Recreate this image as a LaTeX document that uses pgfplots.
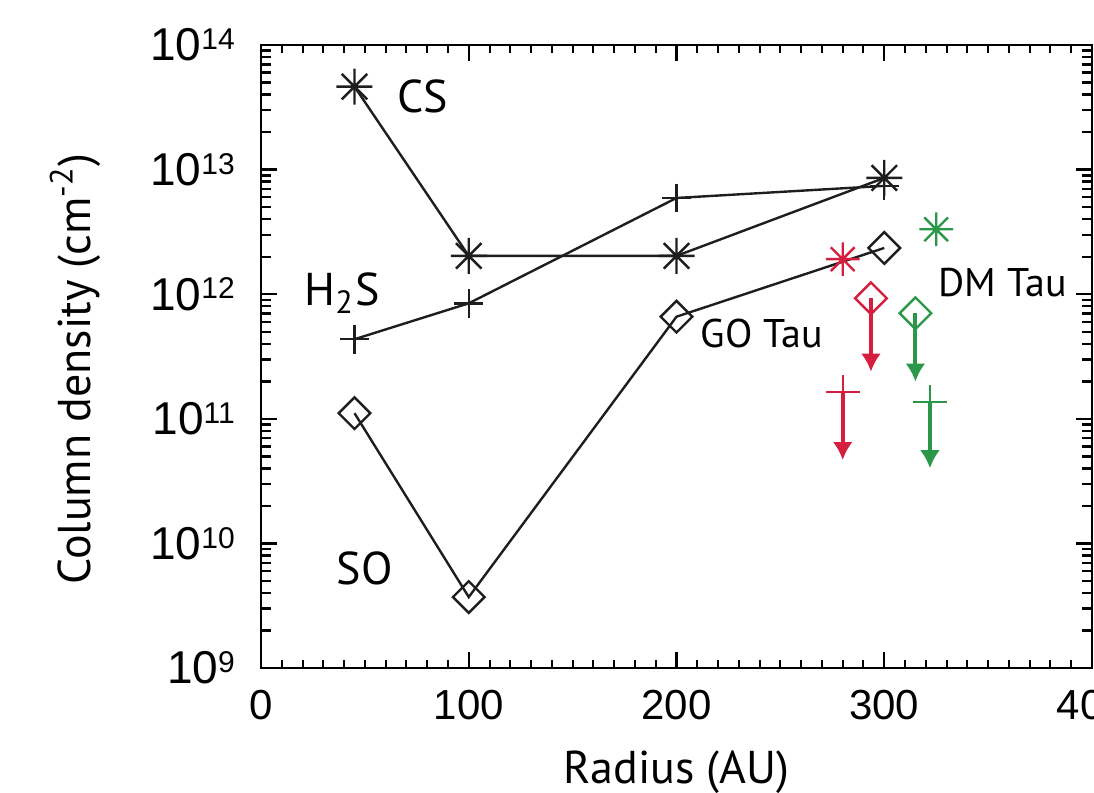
\documentclass[border=0pt]{standalone}
\usepackage{fontspec}
\setmainfont{PT Sans}
\newfontfamily\tickfont{Liberation Sans}
\usepackage{pgfplots}
\pgfplotsset{compat=1.18}
\usetikzlibrary{arrows.meta,calc}
\definecolor{limred}{RGB}{214,30,62}
\definecolor{limgreen}{RGB}{42,152,72}
\definecolor{curve}{RGB}{30,30,30}

% 8-armed asterisk (IDL psym=2 look)
\pgfdeclareplotmark{ast8}{%
  \pgfpathmoveto{\pgfqpoint{0pt}{\pgfplotmarksize}}%
  \pgfpathlineto{\pgfqpoint{0pt}{-\pgfplotmarksize}}%
  \pgfpathmoveto{\pgfqpoint{\pgfplotmarksize}{0pt}}%
  \pgfpathlineto{\pgfqpoint{-\pgfplotmarksize}{0pt}}%
  \pgfpathmoveto{\pgfqpoint{.7071\pgfplotmarksize}{.7071\pgfplotmarksize}}%
  \pgfpathlineto{\pgfqpoint{-.7071\pgfplotmarksize}{-.7071\pgfplotmarksize}}%
  \pgfpathmoveto{\pgfqpoint{-.7071\pgfplotmarksize}{.7071\pgfplotmarksize}}%
  \pgfpathlineto{\pgfqpoint{.7071\pgfplotmarksize}{-.7071\pgfplotmarksize}}%
  \pgfusepathqstroke}

\newcommand{\ylab}[1]{10\raisebox{2.8pt}{\fontsize{7.5}{8}\selectfont #1}}

\begin{document}
\begin{tikzpicture}
\begin{axis}[
    scale only axis,
    width=207.75pt, height=155.75pt,
    xmin=0, xmax=400,
    ymode=log, ymin=1e9, ymax=1e14,
    clip=false,
    xtick={0,100,200,300,400},
    minor xtick={10,20,...,390},
    ytick={1e9,1e10,1e11,1e12,1e13,1e14},
    yticklabels={\ylab{9},\ylab{10},\ylab{11},\ylab{12},\ylab{13},\ylab{14}},
    tick align=inside,
    xtick pos=both, ytick pos=both,
    xticklabel pos=lower, yticklabel pos=left,
    major tick length=4pt, minor tick length=2pt,
    tick style={black, line width=0.55pt},
    minor tick style={black, line width=0.5pt},
    axis line style={line width=0.7pt},
    /pgf/number format/assume math mode=true,
    xticklabel style={font=\tickfont\fontsize{10.5}{12}\selectfont, yshift=-2pt},
    yticklabel style={font=\tickfont\fontsize{11.5}{13}\selectfont, xshift=-3pt},
    xlabel={Radius (AU)},
    ylabel={Column density (cm\textsuperscript{-2})},
    xlabel style={font=\fontsize{11.5}{13}\selectfont, at={(axis description cs:0.5,0)}, anchor=center, yshift=-26pt},
    ylabel style={font=\fontsize{11.5}{13}\selectfont, at={(axis description cs:0,0.48)}, anchor=center, rotate=0, yshift=46.5pt},
]
% ---- model curves
\addplot[curve, line width=0.6pt, mark=ast8, mark size=4.5pt, mark options={solid}]
    coordinates {(45,4.63e13) (100,2.03e12) (200,2.03e12) (300,8.57e12)};
\addplot[curve, line width=0.6pt, mark=+, mark size=3.6pt, mark options={solid}]
    coordinates {(45,4.35e11) (100,8.45e11) (200,5.92e12) (300,7.4e12)};
\addplot[curve, line width=0.6pt, mark=square, mark size=2.8pt, mark options={solid, rotate=45}]
    coordinates {(45,1.11e11) (100,3.71e9) (200,6.6e11) (300,2.35e12)};

% ---- GO Tau (red)
\addplot[limred, only marks, mark=ast8, mark size=4.2pt, line width=0.6pt]
    coordinates {(280,1.91e12)};
\addplot[limred, line width=1pt, -{Latex[length=4.5pt,width=5pt]}]
    coordinates {(293.6,9.27e11) (293.6,2.39e11)};
\addplot[limred, only marks, mark=square, mark size=2.8pt, mark options={rotate=45}, line width=0.6pt]
    coordinates {(293.6,9.27e11)};
\addplot[limred, line width=1pt, -{Latex[length=4.5pt,width=5pt]}]
    coordinates {(280,1.65e11) (280,4.67e10)};
\addplot[limred, only marks, mark=+, mark size=4.2pt, line width=0.6pt]
    coordinates {(280,1.65e11)};

% ---- DM Tau (green)
\addplot[limgreen, only marks, mark=ast8, mark size=4.2pt, line width=0.6pt]
    coordinates {(325,3.32e12)};
\addplot[limgreen, line width=1pt, -{Latex[length=4.5pt,width=5pt]}]
    coordinates {(315,7.03e11) (315,1.99e11)};
\addplot[limgreen, only marks, mark=square, mark size=2.8pt, mark options={rotate=45}, line width=0.6pt]
    coordinates {(315,7.03e11)};
\addplot[limgreen, line width=1pt, -{Latex[length=4.5pt,width=5pt]}]
    coordinates {(322,1.37e11) (322,4.01e10)};
\addplot[limgreen, only marks, mark=+, mark size=4.2pt, line width=0.6pt]
    coordinates {(322,1.37e11)};

% ---- labels
\node[font=\fontsize{11.5}{13}\selectfont] at (axis cs:78,3.9e13) {CS};
\node[font=\fontsize{11.5}{13}\selectfont] at (axis cs:39,1.02e12) {H\textsubscript{2}S};
\node[font=\fontsize{11.5}{13}\selectfont] at (axis cs:50,6.35e9) {SO};
\node[font=\fontsize{10}{12}\selectfont] at (axis cs:241,4.8e11) {GO Tau};
\node[font=\fontsize{10}{12}\selectfont] at (axis cs:357,1.23e12) {DM Tau};
\end{axis}
% log minor ticks (2..9 in each decade) on both y sides
\foreach \d in {0,1,2,3,4}{
  \foreach \k in {2,3,4,5,6,7,8,9}{
    \pgfmathsetmacro\f{(\d+log10(\k))/5}
    \draw[black, line width=0.6pt] ($(current axis.south west)!\f!(current axis.north west)$) -- +(2.6pt,0pt);
    \draw[black, line width=0.6pt] ($(current axis.south east)!\f!(current axis.north east)$) -- +(-2.6pt,0pt);
  }
}
\pgfresetboundingbox
\path[use as bounding box] ([xshift=-65.25pt,yshift=-31pt]current axis.south west)
    rectangle ([xshift=0.5pt,yshift=11.25pt]current axis.north east);
\end{tikzpicture}
\end{document}
